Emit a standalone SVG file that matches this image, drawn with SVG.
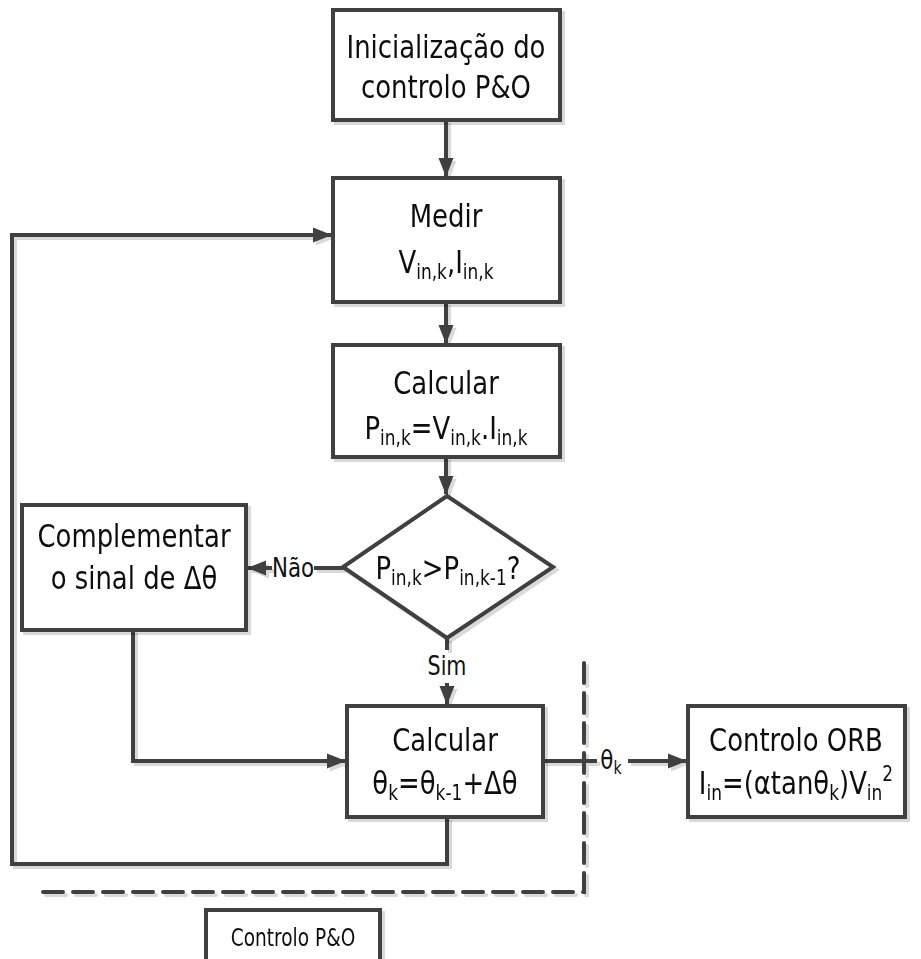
<svg xmlns="http://www.w3.org/2000/svg" width="921" height="959" viewBox="0 0 921 959">
  <style>
    .box { fill: #ffffff; stroke: #404040; stroke-width: 4; }
    .ln { fill: none; stroke: #404040; stroke-width: 4; }
    .dash { fill: none; stroke: #404040; stroke-width: 4; stroke-dasharray: 20 10; stroke-linecap: round; }
    text { font-family: "DejaVu Sans Condensed", "DejaVu Sans", sans-serif; font-stretch: condensed; fill: #111111; text-anchor: middle; }
    .t { font-size: 32px; }
    .lbl { font-size: 27px; }
    .leg { font-size: 24px; }
    .s { font-size: 21px; }
    .sl { font-size: 18px; }
  </style>
  <defs>
    <filter id="shadow" x="-5%" y="-5%" width="115%" height="115%">
      <feOffset in="SourceAlpha" dx="3" dy="3" result="off"/>
      <feFlood flood-color="#000000" flood-opacity="0.15"/>
      <feComposite in2="off" operator="in" result="sh"/>
      <feMerge><feMergeNode in="sh"/><feMergeNode in="SourceGraphic"/></feMerge>
    </filter>
    <marker id="arrow" markerUnits="userSpaceOnUse" markerWidth="19" markerHeight="19" viewBox="0 0 19 19" refX="18" refY="9.5" orient="auto">
      <path d="M0,2 L19,9.5 L0,17 Z" fill="#404040"/>
    </marker>
  </defs>

  <!-- connectors -->
  <g id="connectors" filter="url(#shadow)">
    <path class="ln" d="M446,120 V176" marker-end="url(#arrow)"/>
    <path class="ln" d="M446,302 V343" marker-end="url(#arrow)"/>
    <path class="ln" d="M446,457 V494" marker-end="url(#arrow)"/>
    <path class="ln" d="M343,568 H314"/>
    <path class="ln" d="M272,568 H248" marker-end="url(#arrow)"/>
    <path class="ln" d="M447,638 V650"/>
    <path class="ln" d="M447,683 V704" marker-end="url(#arrow)"/>
    <path class="ln" d="M133,630 V761 H345" marker-end="url(#arrow)"/>
    <path class="ln" d="M543,761 H597"/>
    <path class="ln" d="M628,761 H686" marker-end="url(#arrow)"/>
    <path class="ln" d="M447,817 V864 H12 V235 H331" marker-end="url(#arrow)"/>
    <path class="dash" d="M584,663 V892 H42"/>
  </g>

  <!-- connector labels -->
  <g id="labels">
    <text class="lbl" transform="translate(293,577) scale(0.88,1)">Não</text>
    <text class="lbl" transform="translate(447,675) scale(0.85,1)">Sim</text>
    <text class="lbl" transform="translate(611,769) scale(0.88,1)">θ<tspan class="sl" baseline-shift="-30%">k</tspan></text>
  </g>

  <g id="init" filter="url(#shadow)">
    <rect class="box" x="333" y="10" width="227" height="110"/>
    <text class="t" transform="translate(446,58) scale(0.9,1)">Inicialização do</text>
    <text class="t" transform="translate(446,98) scale(0.9,1)">controlo P&amp;O</text>
  </g>

  <g id="medir" filter="url(#shadow)">
    <rect class="box" x="333" y="178" width="227" height="124"/>
    <text class="t" transform="translate(446,227) scale(0.9,1)">Medir</text>
    <text class="t" transform="translate(446,273) scale(0.9,1)">V<tspan class="s" baseline-shift="-30%">in,k</tspan>,I<tspan class="s" baseline-shift="-30%">in,k</tspan></text>
  </g>

  <g id="calc-p" filter="url(#shadow)">
    <rect class="box" x="333" y="345" width="227" height="112"/>
    <text class="t" transform="translate(446,394) scale(0.9,1)">Calcular</text>
    <text class="t" transform="translate(446,439) scale(0.9,1)">P<tspan class="s" baseline-shift="-30%">in,k</tspan>=V<tspan class="s" baseline-shift="-30%">in,k</tspan>.I<tspan class="s" baseline-shift="-30%">in,k</tspan></text>
  </g>

  <g id="decisao" filter="url(#shadow)">
    <polygon class="box" points="447,496 553,567 447,638 343,567"/>
    <text class="t" transform="translate(448,579) scale(0.9,1)">P<tspan class="s" baseline-shift="-30%">in,k</tspan>&gt;P<tspan class="s" baseline-shift="-30%">in,k-1</tspan>?</text>
  </g>

  <g id="complementar" filter="url(#shadow)">
    <rect class="box" x="22" y="505" width="224" height="125"/>
    <text class="t" transform="translate(134,547) scale(0.9,1)">Complementar</text>
    <text class="t" transform="translate(134,589) scale(0.9,1)">o sinal de Δθ</text>
  </g>

  <g id="calc-theta" filter="url(#shadow)">
    <rect class="box" x="347" y="706" width="196" height="111"/>
    <text class="t" transform="translate(445,751) scale(0.9,1)">Calcular</text>
    <text class="t" transform="translate(445,794) scale(0.9,1)">θ<tspan class="s" baseline-shift="-30%">k</tspan>=θ<tspan class="s" baseline-shift="-30%">k-1</tspan>+Δθ</text>
  </g>

  <g id="orb" filter="url(#shadow)">
    <rect class="box" x="688" y="706" width="217" height="111"/>
    <text class="t" transform="translate(796,751) scale(0.9,1)">Controlo ORB</text>
    <text class="t" transform="translate(796,794) scale(0.9,1)">I<tspan class="s" baseline-shift="-30%">in</tspan>=(αtanθ<tspan class="s" baseline-shift="-30%">k</tspan>)V<tspan class="s" baseline-shift="-30%">in</tspan><tspan class="s" baseline-shift="60%">2</tspan></text>
  </g>

  <g id="legenda" filter="url(#shadow)">
    <rect class="box" x="206" y="910" width="174" height="60"/>
    <text class="leg" transform="translate(293,946) scale(0.86,1)">Controlo P&amp;O</text>
  </g>
</svg>
